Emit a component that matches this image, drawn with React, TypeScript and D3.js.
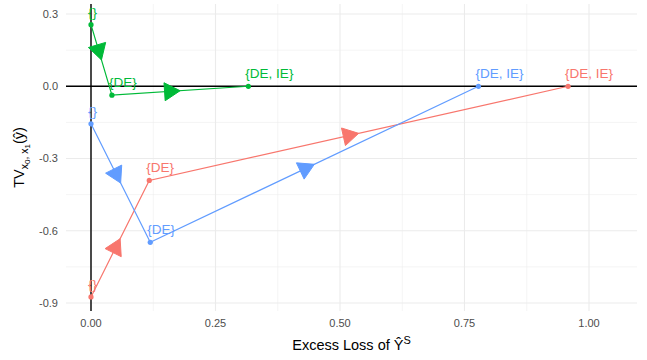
import React from 'react';
import * as d3 from 'd3';

const stages = ["{}", "{DE}", "{DE, IE}"];
const groups = ["A", "B", "C"];
const colors = ["#F8766D", "#00BA38", "#619CFF"];
const lossA = [0, 0.117, 0.958];
const tvA = [-0.875, -0.391, 0];
const lossB = [0, 0.042, 0.316];
const tvB = [0.256, -0.037, 0];
const lossC = [0, 0.119, 0.778];
const tvC = [-0.156, -0.648, 0];
const xTicks = [0, 0.25, 0.5, 0.75, 1.0];
const xMinor = [0.125, 0.375, 0.625, 0.875];
const yTicks = [0.3, 0, -0.3, -0.6, -0.9];
const yMinor = [0.15, -0.15, -0.45, -0.75];

const W = 647;
const H = 360;
const panel = { left: 66, right: 637, top: 4, bottom: 311 };

export default function App() {
  const x = d3.scaleLinear().domain([-0.0502, 1.0964]).range([panel.left, panel.right]);
  const y = d3.scaleLinear().domain([0.3417, -0.9333]).range([panel.top, panel.bottom]);

  const series = [
    { name: groups[0], color: colors[0], loss: lossA, tv: tvA },
    { name: groups[1], color: colors[1], loss: lossB, tv: tvB },
    { name: groups[2], color: colors[2], loss: lossC, tv: tvC },
  ];
  const line = d3.line<[number, number]>().x(d => x(d[0])).y(d => y(d[1]));

  // closed arrowhead with tip at middle of each segment
  const arrow = (x0: number, y0: number, x1: number, y1: number) => {
    const mx = (x0 + x1) / 2, my = (y0 + y1) / 2;
    const a = Math.atan2(y1 - y0, x1 - x0);
    const len = 18, ang = Math.PI / 6;
    const p1 = [mx - len * Math.cos(a - ang), my - len * Math.sin(a - ang)];
    const p2 = [mx - len * Math.cos(a + ang), my - len * Math.sin(a + ang)];
    return `M${mx},${my}L${p1[0]},${p1[1]}L${p2[0]},${p2[1]}Z`;
  };

  const font = "'Liberation Sans', Arial, sans-serif";

  return (
    <svg width={W} height={H} style={{ position: 'absolute', left: 0, top: 0 }} fontFamily={font}>
      <rect width={W} height={H} fill="white" />
      <g>
        {yMinor.map(v => (
          <line key={'ym' + v} x1={panel.left} x2={panel.right} y1={y(v)} y2={y(v)} stroke="#EBEBEB" strokeWidth={0.55} />
        ))}
        {xMinor.map(v => (
          <line key={'xm' + v} x1={x(v)} x2={x(v)} y1={panel.top} y2={panel.bottom} stroke="#EBEBEB" strokeWidth={0.55} />
        ))}
        {yTicks.map(v => (
          <line key={'yM' + v} x1={panel.left} x2={panel.right} y1={y(v)} y2={y(v)} stroke="#EBEBEB" strokeWidth={1.1} />
        ))}
        {xTicks.map(v => (
          <line key={'xM' + v} x1={x(v)} x2={x(v)} y1={panel.top} y2={panel.bottom} stroke="#EBEBEB" strokeWidth={1.1} />
        ))}
      </g>
      <line x1={panel.left} x2={panel.right} y1={y(0)} y2={y(0)} stroke="black" strokeWidth={1.4} />
      <line x1={x(0)} x2={x(0)} y1={panel.top} y2={panel.bottom} stroke="black" strokeWidth={1.4} />

      {series.map(s => {
        const pts: [number, number][] = s.loss.map((l, i) => [l, s.tv[i]]);
        return (
          <g key={s.name}>
            <path d={line(pts) || ''} fill="none" stroke={s.color} strokeWidth={1.2} />
            {pts.slice(1).map((p, i) => (
              <path key={i} d={arrow(x(pts[i][0]), y(pts[i][1]), x(p[0]), y(p[1]))} fill={s.color} stroke={s.color} strokeWidth={1} />
            ))}
            {pts.map((p, i) => (
              <circle key={'c' + i} cx={x(p[0])} cy={y(p[1])} r={2.6} fill={s.color} />
            ))}
            {pts.map((p, i) => (
              <text key={'t' + i} x={x(p[0]) - 3} y={y(p[1]) - 8} fontSize={13.5} fill={s.color}>
                {stages[i]}
              </text>
            ))}
          </g>
        );
      })}

      {yTicks.map(v => (
        <text key={'yl' + v} x={58} y={y(v)} dy="0.35em" textAnchor="end" fontSize={11} fill="#4D4D4D">
          {d3.format('.1f')(v).replace('−', '-')}
        </text>
      ))}
      {xTicks.map(v => (
        <text key={'xl' + v} x={x(v)} y={327} textAnchor="middle" fontSize={11} fill="#4D4D4D">
          {d3.format('.2f')(v)}
        </text>
      ))}

      <text x={(panel.left + panel.right) / 2} y={350} textAnchor="middle" fontSize={14.5} fill="black">
        Excess Loss of Ŷ<tspan dy={-6} fontSize={11}>S</tspan>
      </text>
      <text transform={`translate(24,${(panel.top + panel.bottom) / 2}) rotate(-90)`} textAnchor="middle" fontSize={14.5} fill="black">
        TV<tspan dy={4} fontSize={10.5}>x</tspan><tspan dy={2} fontSize={8}>0</tspan><tspan dy={-2} fontSize={10.5}>, x</tspan><tspan dy={2} fontSize={8}>1</tspan><tspan dy={-6}>(ŷ)</tspan>
      </text>
    </svg>
  );
}
